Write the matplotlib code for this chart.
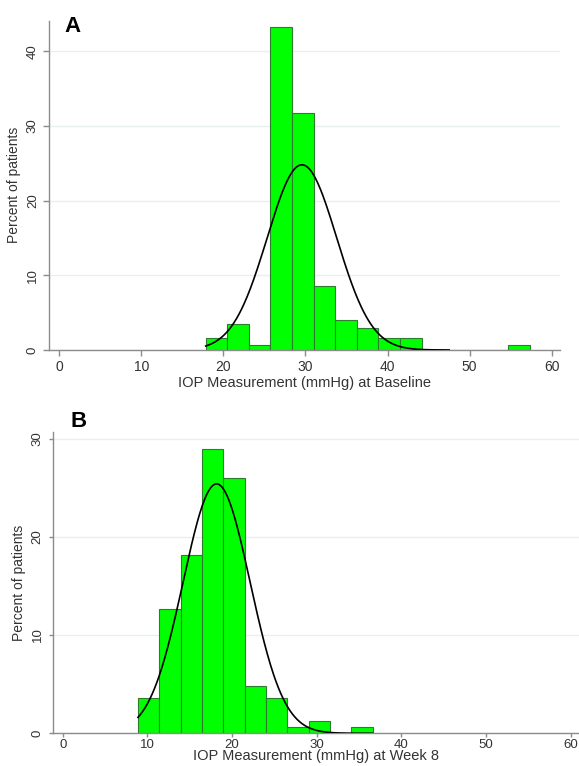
import numpy as np
import matplotlib.pyplot as plt

plt.rcParams['font.family'] = ['Liberation Sans', 'DejaVu Sans']

# --- Panel A: baseline IOP ---
a_start = 17.85
a_width = 2.63
a_pct = [1.66, 3.45, 0.63, 43.2, 31.8, 8.6, 4.0, 2.9, 1.66, 1.66, 0, 0, 0, 0, 0.63]
a_mean, a_sd = 29.57, 4.23

# --- Panel B: week 8 IOP ---
b_start = 8.88
b_width = 2.52
b_pct = [3.63, 12.7, 18.1, 28.9, 26.0, 4.82, 3.63, 0.65, 1.22, 0, 0.65]
b_mean, b_sd = 18.17, 3.96

x_ticks = [0, 10, 20, 30, 40, 50, 60]

W, H = 579, 766
fig = plt.figure(figsize=(W / 100, H / 100), dpi=100)

green = '#00ff00'
edge = '#2e7d2e'
axis_col = '#8c8c8c'
grid_col = '#e6f0f0'


def panel(rect, start, width, pct, mu, sd, yticks, ymax, xlabel,
          curve_end, xpad, lpad, tsize, lsize, tlen):
    ax = fig.add_axes(rect)
    edges = start + width * np.arange(len(pct) + 1)
    ax.bar(edges[:-1], pct, width=width, align='edge', color=green,
           edgecolor=edge, linewidth=0.8, zorder=2)
    xs = np.linspace(edges[0], curve_end, 300)
    ys = 100 * width * np.exp(-0.5 * ((xs - mu) / sd) ** 2) / (sd * np.sqrt(2 * np.pi))
    ax.plot(xs, ys, color='black', lw=1.2, zorder=3)
    ax.set_xlim(-1.2, 61)
    ax.set_ylim(0, ymax)
    ax.set_xticks(x_ticks)
    ax.set_yticks(yticks)
    ax.grid(axis='y', color=grid_col, lw=1.0, zorder=0)
    ax.set_axisbelow(True)
    for s in ['top', 'right']:
        ax.spines[s].set_visible(False)
    for s in ['left', 'bottom']:
        ax.spines[s].set_color(axis_col)
        ax.spines[s].set_linewidth(1.0)
    ax.tick_params(colors=axis_col, length=tlen, width=1.0, labelcolor='#333333')
    ax.tick_params(axis='x', labelsize=tsize, pad=xpad)
    ax.tick_params(axis='y', labelsize=9.5, labelrotation=90)
    for lab in ax.get_yticklabels():
        lab.set_va('center')
    ax.set_xlabel(xlabel, fontsize=lsize, color='#333333', labelpad=lpad)
    ax.set_ylabel('Percent of patients', fontsize=10, color='#333333', labelpad=4)
    return ax


panel([49.3 / W, 1 - 350 / H, (560 - 49.3) / W, (350 - 20.7) / H],
      a_start, a_width, a_pct, a_mean, a_sd, [0, 10, 20, 30, 40], 44.1,
      'IOP Measurement (mmHg) at Baseline', 47.5, 3.5, 1, 10, 10.5, 4)

panel([52.7 / W, 1 - 733.3 / H, (579 - 52.7) / W, (733.3 - 431.7) / H],
      b_start, b_width, b_pct, b_mean, b_sd, [0, 10, 20, 30], 30.7,
      'IOP Measurement (mmHg) at Week 8', 36.6, 1, -1, 9.5, 10.5, 3)

# panel letters
fig.text(64 / W, 1 - 16 / H, 'A', fontsize=16, fontweight='bold', va='top', ha='left')
fig.text(71 / W, 1 - 411 / H, 'B', fontsize=16, fontweight='bold', va='top', ha='left')

plt.savefig('out.png', dpi=100)
